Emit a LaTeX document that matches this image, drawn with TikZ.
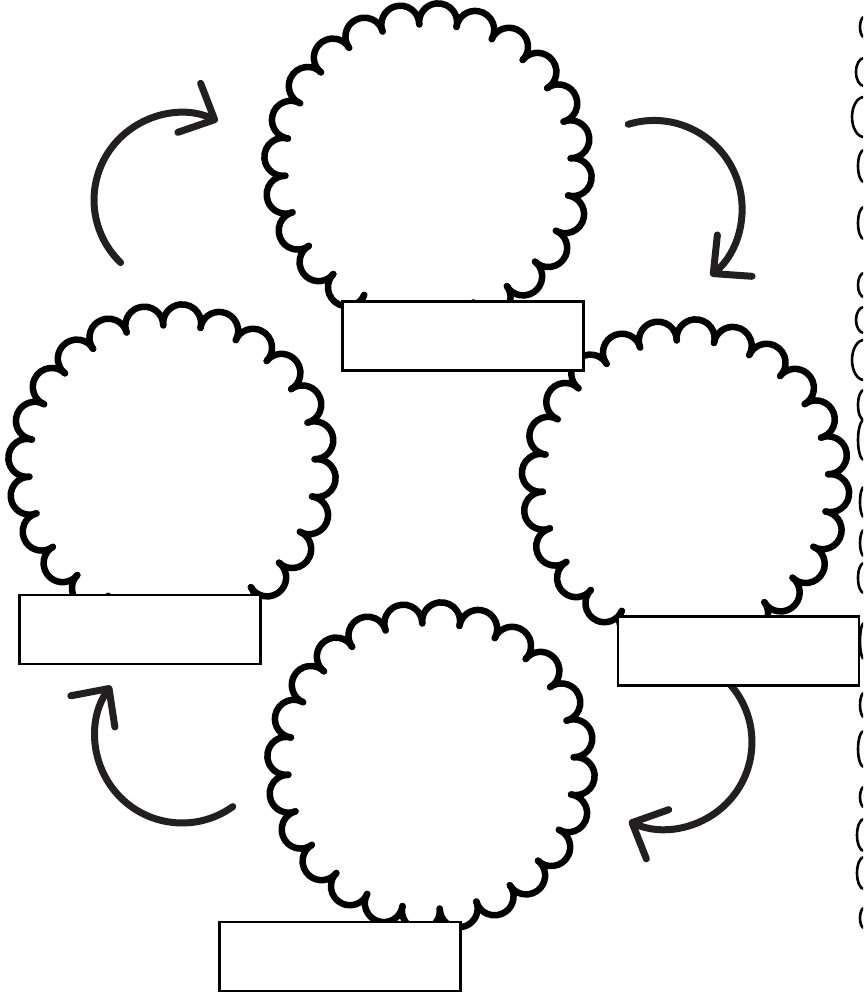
\documentclass[tikz,border=0pt]{standalone}
\usetikzlibrary{arrows.meta}
\definecolor{arrowgray}{HTML}{231F20}
\tikzset{
  scallop/.style={line width=6.5pt,draw=black,line cap=round},
  labelbox/.style={draw=black,line width=2.6pt,fill=white,minimum width=241pt,minimum height=69pt,inner sep=0pt},
  cyclearrow/.style={line width=7pt,draw=arrowgray,line cap=round,-{Straight Barb[length=28pt,width=54pt,round]}},
  edgearc/.style={line width=2.6pt,draw=black}
}
\newcommand{\scallopring}[1]{%
  \foreach \k [evaluate=\k as \ang using 4+15*\k] in {0,...,23}
    \draw[scallop] (#1) ++(\ang:145) ++(\ang-100:19) arc[start angle=\ang-100,end angle=\ang+100,radius=19];}

\begin{document}
\begin{tikzpicture}[x=1pt,y=-1pt]
\useasboundingbox (0,0) rectangle (863,996);
\fill[white] (0,0) rectangle (863,996);

\coordinate (ringtop) at (428,167);
\coordinate (ringleft) at (172,468);
\coordinate (ringright) at (685.5,483);
\coordinate (ringbottom) at (431,766);
\scallopring{ringtop}
\scallopring{ringleft}
\scallopring{ringright}
\scallopring{ringbottom}

\coordinate (arrowtl) at (120.6,262.6);
\coordinate (arrowtr) at (628.3,124.3);
\coordinate (arrowbr) at (729.6,683.8);
\coordinate (arrowbl) at (232.8,806.6);
\draw[cyclearrow] (arrowtl) arc[start angle=134,end angle=295,radius=87];
\draw[cyclearrow] (arrowtr) arc[start angle=253,end angle=410,radius=88];
\draw[cyclearrow] (arrowbr) arc[start angle=-42,end angle=114.5,radius=87];
\draw[cyclearrow] (arrowbl) arc[start angle=54.3,end angle=215.3,radius=87];

\node[labelbox] (boxtop) at (463,336) {};
\node[labelbox] (boxleft) at (140,629.5) {};
\node[labelbox] (boxright) at (738.5,651) {};
\node[labelbox] (boxbottom) at (340,956.5) {};

\begin{scope}
\clip (0,0) rectangle (863,996);
\foreach \yc/\hh/\ww in {27/10/4,72/14/8,117/20/12,166/16/6,223/16/6,285/12/6,
  320/13/8,360/20/12,405/15/6,440/20/6,502/15/4,543/13/4,578/15/6,641/18/4,
  705/12/4,749/18/6,797/10/4,835/16/7,873/16/7,918/10/4}
  \draw[edgearc] (864,\yc) ellipse[x radius=\ww, y radius=\hh];
\end{scope}
\end{tikzpicture}
\end{document}
